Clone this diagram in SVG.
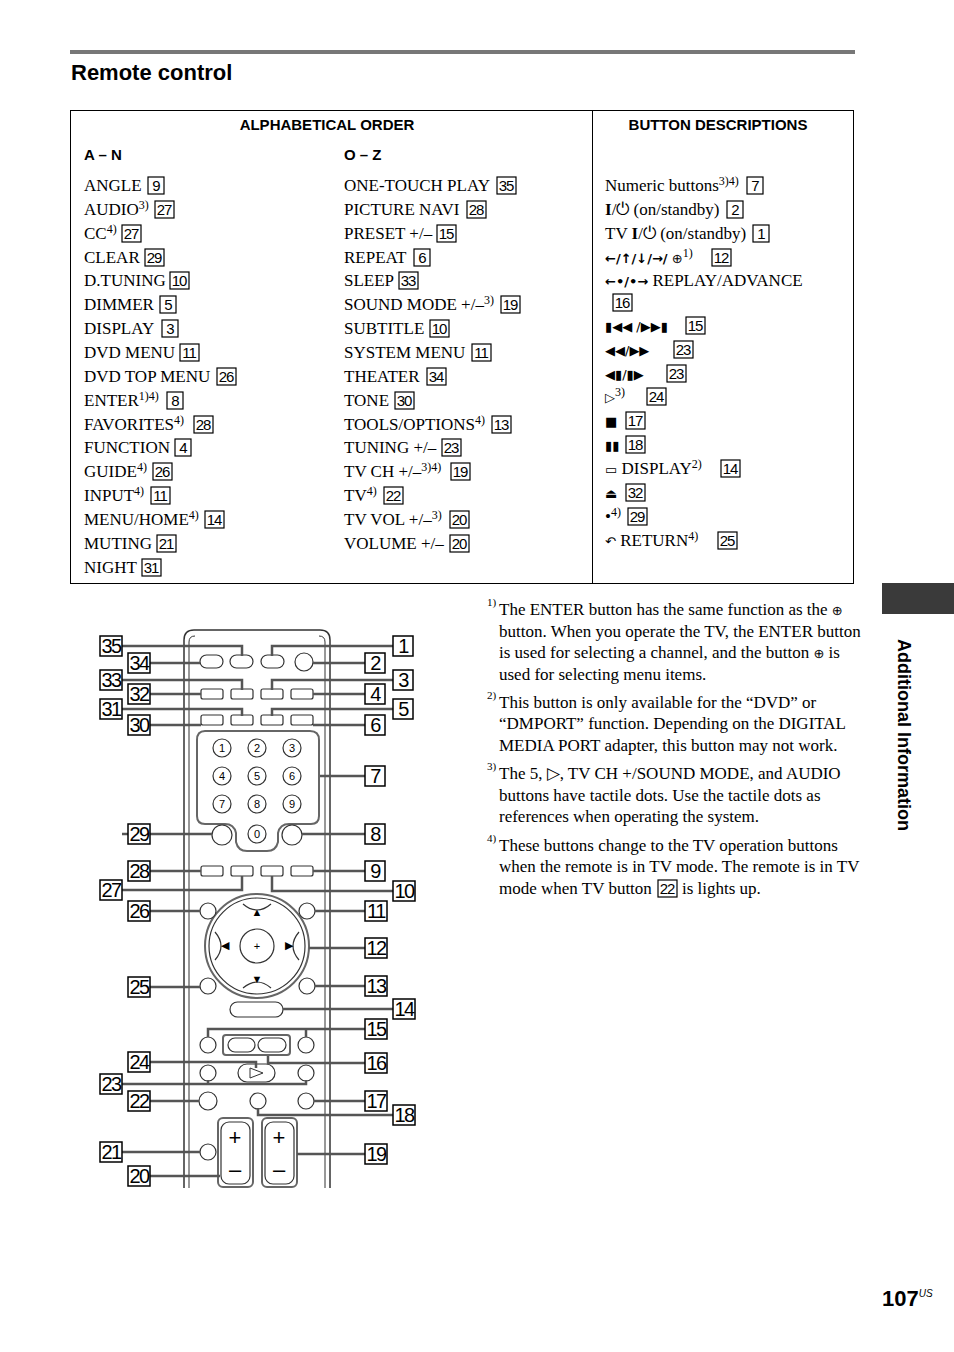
<svg xmlns="http://www.w3.org/2000/svg" width="954" height="1352" viewBox="0 0 954 1352">
<style>
.t{font-family:"Liberation Serif",serif;font-size:17px;fill:#000}
.h{font-family:"Liberation Sans",sans-serif;font-size:15px;font-weight:bold}
.s{font-size:12px}
.bx{fill:#fff;stroke:#000;stroke-width:1.2}
.bn{font-family:"Liberation Sans",sans-serif;font-size:15px;letter-spacing:-1px;text-anchor:middle}
.lb{fill:#fff;stroke:#000;stroke-width:1.5}
.ln{font-family:"Liberation Sans",sans-serif;font-size:20px;letter-spacing:-1.5px;text-anchor:middle}
.r{fill:#fff;stroke:#333;stroke-width:1.2}
.ld{fill:none;stroke:#555;stroke-width:2.5}
.d{font-family:"Liberation Sans",sans-serif;font-size:11px;text-anchor:middle}
.sy{font-family:"DejaVu Sans",sans-serif;font-size:13px}
</style>
<rect width="954" height="1352" fill="#fff"/>
<line x1="70" y1="52" x2="855" y2="52" stroke="#777" stroke-width="4"/>
<text x="71" y="80" font-family="Liberation Sans,sans-serif" font-size="22" font-weight="bold">Remote control</text>
<rect x="70.5" y="110.5" width="783" height="473" fill="none" stroke="#000"/>
<line x1="592.5" y1="110" x2="592.5" y2="583" stroke="#000"/>
<text class="h" x="327" y="130" text-anchor="middle">ALPHABETICAL ORDER</text>
<text class="h" x="718" y="130" text-anchor="middle">BUTTON DESCRIPTIONS</text>
<text class="h" x="84" y="160">A – N</text>
<text class="h" x="344" y="160">O – Z</text>
<g id="tbl">
<g class="t">
<text x="84" y="191">ANGLE</text><text x="84" y="215">AUDIO<tspan class="s" dy="-6">3)</tspan></text>
<text x="84" y="239">CC<tspan class="s" dy="-6">4)</tspan></text><text x="84" y="263">CLEAR</text>
<text x="84" y="286">D.TUNING</text><text x="84" y="310">DIMMER</text><text x="84" y="334">DISPLAY</text>
<text x="84" y="358">DVD MENU</text><text x="84" y="382">DVD TOP MENU</text>
<text x="84" y="406">ENTER<tspan class="s" dy="-6">1)4)</tspan></text>
<text x="84" y="430">FAVORITES<tspan class="s" dy="-6">4)</tspan></text><text x="84" y="453">FUNCTION</text>
<text x="84" y="477">GUIDE<tspan class="s" dy="-6">4)</tspan></text><text x="84" y="501">INPUT<tspan class="s" dy="-6">4)</tspan></text>
<text x="84" y="525">MENU/HOME<tspan class="s" dy="-6">4)</tspan></text><text x="84" y="549">MUTING</text><text x="84" y="573">NIGHT</text>
<text x="344" y="191">ONE-TOUCH PLAY</text><text x="344" y="215">PICTURE NAVI</text><text x="344" y="239">PRESET +/–</text>
<text x="344" y="263">REPEAT</text><text x="344" y="286">SLEEP</text><text x="344" y="310">SOUND MODE +/–<tspan class="s" dy="-6">3)</tspan></text>
<text x="344" y="334">SUBTITLE</text><text x="344" y="358">SYSTEM MENU</text><text x="344" y="382">THEATER</text>
<text x="344" y="406">TONE</text><text x="344" y="430">TOOLS/OPTIONS<tspan class="s" dy="-6">4)</tspan></text>
<text x="344" y="453">TUNING +/–</text><text x="344" y="477">TV CH +/–<tspan class="s" dy="-6">3)4)</tspan></text>
<text x="344" y="501">TV<tspan class="s" dy="-6">4)</tspan></text><text x="344" y="525">TV VOL +/–<tspan class="s" dy="-6">3)</tspan></text>
<text x="344" y="549">VOLUME +/–</text>
<text x="605" y="191">Numeric buttons<tspan class="s" dy="-6">3)4)</tspan></text>
<text x="605" y="215"><tspan font-weight="bold">I</tspan>/⏻ (on/standby)</text><text x="605" y="239">TV <tspan font-weight="bold">I</tspan>/⏻ (on/standby)</text>
<text x="605" y="263"><tspan class="sy" font-weight="bold">←/↑/↓/→/</tspan> <tspan class="sy" font-size="11">⊕</tspan><tspan class="s" dy="-6">1)</tspan></text>
<text x="605" y="286"><tspan class="sy" font-size="14" font-weight="bold"> ←•/•→</tspan>  REPLAY/ADVANCE</text>
<text x="605" y="331" class="sy" font-size="12">▮◀◀ /▶▶▮</text>
<text x="605" y="355" class="sy">◀◀/▶▶</text>
<text x="605" y="379" class="sy" font-size="11">◀▮/▮▶</text>
<text x="605" y="402"><tspan class="sy" font-size="15">▷</tspan><tspan class="s" dy="-6">3)</tspan></text>
<text x="605" y="426" class="sy" font-size="15">■</text>
<text x="605" y="450" class="sy" font-size="12">▮▮</text>
<text x="605" y="474"><tspan class="sy" font-size="12">▭</tspan> DISPLAY<tspan class="s" dy="-6">2)</tspan></text>
<text x="605" y="498" class="sy" font-size="14">⏏</text>
<text x="605" y="522">•<tspan class="s" dy="-6">4)</tspan></text>
<text x="605" y="546"><tspan class="sy" font-size="14">↶</tspan> RETURN<tspan class="s" dy="-6">4)</tspan></text>
</g>
<g>
<rect class="bx" x="148" y="177" width="16" height="17"/><text class="bn" x="156" y="191">9</text>
<rect class="bx" x="155" y="201" width="19" height="17"/><text class="bn" x="164" y="215">27</text>
<rect class="bx" x="122" y="225" width="19" height="17"/><text class="bn" x="131" y="239">27</text>
<rect class="bx" x="145" y="249" width="19" height="17"/><text class="bn" x="154" y="263">29</text>
<rect class="bx" x="170" y="272" width="19" height="17"/><text class="bn" x="179" y="286">10</text>
<rect class="bx" x="160" y="296" width="16" height="17"/><text class="bn" x="168" y="310">5</text>
<rect class="bx" x="162" y="320" width="16" height="17"/><text class="bn" x="170" y="334">3</text>
<rect class="bx" x="180" y="344" width="19" height="17"/><text class="bn" x="189" y="358">11</text>
<rect class="bx" x="217" y="368" width="19" height="17"/><text class="bn" x="226" y="382">26</text>
<rect class="bx" x="167" y="392" width="16" height="17"/><text class="bn" x="175" y="406">8</text>
<rect class="bx" x="194" y="416" width="19" height="17"/><text class="bn" x="203" y="430">28</text>
<rect class="bx" x="175" y="439" width="16" height="17"/><text class="bn" x="183" y="453">4</text>
<rect class="bx" x="153" y="463" width="19" height="17"/><text class="bn" x="162" y="477">26</text>
<rect class="bx" x="151" y="487" width="19" height="17"/><text class="bn" x="160" y="501">11</text>
<rect class="bx" x="205" y="511" width="19" height="17"/><text class="bn" x="214" y="525">14</text>
<rect class="bx" x="157" y="535" width="19" height="17"/><text class="bn" x="166" y="549">21</text>
<rect class="bx" x="142" y="559" width="19" height="17"/><text class="bn" x="151" y="573">31</text>
<rect class="bx" x="497" y="177" width="19" height="17"/><text class="bn" x="506" y="191">35</text>
<rect class="bx" x="467" y="201" width="19" height="17"/><text class="bn" x="476" y="215">28</text>
<rect class="bx" x="437" y="225" width="19" height="17"/><text class="bn" x="446" y="239">15</text>
<rect class="bx" x="414" y="249" width="16" height="17"/><text class="bn" x="422" y="263">6</text>
<rect class="bx" x="399" y="272" width="19" height="17"/><text class="bn" x="408" y="286">33</text>
<rect class="bx" x="501" y="296" width="19" height="17"/><text class="bn" x="510" y="310">19</text>
<rect class="bx" x="430" y="320" width="19" height="17"/><text class="bn" x="439" y="334">10</text>
<rect class="bx" x="472" y="344" width="19" height="17"/><text class="bn" x="481" y="358">11</text>
<rect class="bx" x="427" y="368" width="19" height="17"/><text class="bn" x="436" y="382">34</text>
<rect class="bx" x="395" y="392" width="19" height="17"/><text class="bn" x="404" y="406">30</text>
<rect class="bx" x="492" y="416" width="19" height="17"/><text class="bn" x="501" y="430">13</text>
<rect class="bx" x="442" y="439" width="19" height="17"/><text class="bn" x="451" y="453">23</text>
<rect class="bx" x="451" y="463" width="19" height="17"/><text class="bn" x="460" y="477">19</text>
<rect class="bx" x="384" y="487" width="19" height="17"/><text class="bn" x="393" y="501">22</text>
<rect class="bx" x="450" y="511" width="19" height="17"/><text class="bn" x="459" y="525">20</text>
<rect class="bx" x="450" y="535" width="19" height="17"/><text class="bn" x="459" y="549">20</text>
<rect class="bx" x="747" y="177" width="16" height="17"/><text class="bn" x="755" y="191">7</text>
<rect class="bx" x="727" y="201" width="16" height="17"/><text class="bn" x="735" y="215">2</text>
<rect class="bx" x="753" y="225" width="16" height="17"/><text class="bn" x="761" y="239">1</text>
<rect class="bx" x="712" y="249" width="19" height="17"/><text class="bn" x="721" y="263">12</text>
<rect class="bx" x="613" y="294" width="19" height="17"/><text class="bn" x="622" y="308">16</text>
<rect class="bx" x="686" y="317" width="19" height="17"/><text class="bn" x="695" y="331">15</text>
<rect class="bx" x="674" y="341" width="19" height="17"/><text class="bn" x="683" y="355">23</text>
<rect class="bx" x="667" y="365" width="19" height="17"/><text class="bn" x="676" y="379">23</text>
<rect class="bx" x="647" y="388" width="19" height="17"/><text class="bn" x="656" y="402">24</text>
<rect class="bx" x="626" y="412" width="19" height="17"/><text class="bn" x="635" y="426">17</text>
<rect class="bx" x="626" y="436" width="19" height="17"/><text class="bn" x="635" y="450">18</text>
<rect class="bx" x="721" y="460" width="19" height="17"/><text class="bn" x="730" y="474">14</text>
<rect class="bx" x="626" y="484" width="19" height="17"/><text class="bn" x="635" y="498">32</text>
<rect class="bx" x="628" y="508" width="19" height="17"/><text class="bn" x="637" y="522">29</text>
<rect class="bx" x="718" y="532" width="19" height="17"/><text class="bn" x="727" y="546">25</text>
</g>
</g>
<g id="remote">
<path d="M184 1188 V640 Q184 630 194 630 H320 Q330 630 330 640 V1188" fill="none" stroke="#333" stroke-width="1.5"/>
<path d="M189 1188 V642 Q189 636 195 636 M325 1188 V642 Q325 636 319 636" fill="none" stroke="#333" stroke-width="1"/>
<rect class="r" x="200" y="655" width="23" height="13" rx="6.5"/><rect class="r" x="230" y="655" width="23" height="13" rx="6.5"/>
<rect class="r" x="261" y="655" width="23" height="13" rx="6.5"/><circle class="r" cx="304" cy="662" r="9"/>
<g class="r">
<rect x="201" y="689" width="22" height="10" rx="2"/><rect x="231" y="689" width="22" height="10" rx="2"/><rect x="261" y="689" width="22" height="10" rx="2"/><rect x="291" y="689" width="22" height="10" rx="2"/>
<rect x="201" y="715" width="22" height="10" rx="2"/><rect x="231" y="715" width="22" height="10" rx="2"/><rect x="261" y="715" width="22" height="10" rx="2"/><rect x="291" y="715" width="22" height="10" rx="2"/>
<rect x="201" y="866" width="22" height="10" rx="2"/><rect x="231" y="866" width="22" height="10" rx="2"/><rect x="261" y="866" width="22" height="10" rx="2"/><rect x="291" y="866" width="22" height="10" rx="2"/>
</g>
<path d="M205 731 H310 Q319 731 319 740 V816 Q319 824 311 824 H289 Q280 824 278 833 V842 Q276 851 267 851 H247 Q238 851 236 842 V833 Q234 824 225 824 H205 Q197 824 197 816 V740 Q197 731 205 731 Z" fill="none" stroke="#666" stroke-width="2"/>
<g class="r"><circle cx="222" cy="748" r="9"/><circle cx="257" cy="748" r="9"/><circle cx="292" cy="748" r="9"/>
<circle cx="222" cy="776" r="9"/><circle cx="257" cy="776" r="9"/><circle cx="292" cy="776" r="9"/>
<circle cx="222" cy="804" r="9"/><circle cx="257" cy="804" r="9"/><circle cx="292" cy="804" r="9"/>
<circle cx="257" cy="834" r="9"/><circle cx="222" cy="835" r="10"/><circle cx="292" cy="835" r="10"/></g>
<g class="d"><text x="222" y="752">1</text><text x="257" y="752">2</text><text x="292" y="752">3</text><text x="222" y="780">4</text><text x="257" y="780">5</text><text x="292" y="780">6</text><text x="222" y="808">7</text><text x="257" y="808">8</text><text x="292" y="808">9</text><text x="257" y="838">0</text></g>
<circle cx="257" cy="946" r="52" fill="#fff" stroke="#666" stroke-width="2"/><circle cx="257" cy="946" r="48" class="r"/>
<circle cx="257" cy="946" r="17" class="r"/>
<path d="M243 904 Q257 916 271 904 M243 988 Q257 976 271 988 M215 932 Q227 946 215 960 M299 932 Q287 946 299 960" class="r" fill="none"/>
<text class="d" x="257" y="950">+</text><text class="d" x="257" y="916" font-size="8">▲</text><text class="d" x="257" y="983" font-size="8">▼</text><text class="d" x="225" y="949" font-size="8">◀</text><text class="d" x="289" y="949" font-size="8">▶</text>
<g class="r"><circle cx="208" cy="911" r="8"/><circle cx="307" cy="911" r="8"/><circle cx="208" cy="986" r="8"/><circle cx="307" cy="986" r="8"/>
<rect x="230" y="1002" width="53" height="15" rx="7.5"/>
<circle cx="208" cy="1045" r="8"/><circle cx="306" cy="1045" r="8"/></g>
<rect x="223" y="1035" width="67" height="20" rx="3" fill="none" stroke="#666" stroke-width="2"/>
<rect class="r" x="228" y="1038" width="27" height="14" rx="7"/><rect class="r" x="258" y="1038" width="28" height="14" rx="7"/>
<rect class="r" x="238" y="1064" width="37" height="18" rx="9"/><path d="M250 1068 L263 1073 L250 1078 Z" fill="none" stroke="#333"/>
<g class="r"><circle cx="208" cy="1073" r="8"/><circle cx="306" cy="1073" r="8"/><circle cx="208" cy="1101" r="9"/><circle cx="258" cy="1101" r="8"/><circle cx="306" cy="1101" r="8"/><circle cx="208" cy="1152" r="8"/></g>
<rect x="218" y="1118" width="35" height="69" rx="5" fill="none" stroke="#666" stroke-width="2"/>
<rect x="262" y="1118" width="35" height="69" rx="5" fill="none" stroke="#666" stroke-width="2"/>
<rect class="r" x="221" y="1122" width="29" height="62" rx="8"/><rect class="r" x="265" y="1122" width="29" height="62" rx="8"/>
<g font-family="Liberation Sans,sans-serif" font-size="22" text-anchor="middle"><text x="235" y="1145">+</text><text x="235" y="1177">–</text><text x="279" y="1145">+</text><text x="279" y="1177">–</text></g>
</g>
<g id="connectors" class="ld">
<path d="M122 646 H242 V656"/><path d="M150 663 H200"/><path d="M122 680 H242 V690"/><path d="M150 694 H201"/>
<path d="M122 709 H242 V716"/><path d="M150 725 H201"/><path d="M122 834 H212"/><path d="M150 871 H201"/>
<path d="M122 890 H242 V876"/><path d="M150 911 H200"/><path d="M150 987 H200"/><path d="M150 1062 H256 V1068"/>
<path d="M122 1084 H208 V1080 M208 1084 H306 V1080"/><path d="M150 1101 H199"/><path d="M122 1152 H200"/><path d="M150 1176 H220"/>
<path d="M393 646 H272 V656"/><path d="M365 663 H313"/><path d="M393 680 H272 V690"/><path d="M365 694 H313"/>
<path d="M393 709 H272 V716"/><path d="M365 725 H313"/><path d="M365 776 H320"/><path d="M365 834 H302"/>
<path d="M365 871 H313"/><path d="M393 891 H272 V876"/><path d="M365 911 H315"/><path d="M365 948 H309"/>
<path d="M365 986 H315"/><path d="M393 1009 H283"/><path d="M365 1029 H208 V1037 M306 1029 V1037"/>
<path d="M365 1063 H268 V1056"/><path d="M365 1101 H314"/><path d="M393 1115 H258 V1108"/><path d="M365 1154 H297"/>
</g>
<g id="labels">
<rect class="lb" x="100" y="636" width="22" height="20"/><text class="ln" x="111" y="653">35</text>
<rect class="lb" x="128" y="653" width="22" height="20"/><text class="ln" x="139" y="670">34</text>
<rect class="lb" x="100" y="670" width="22" height="20"/><text class="ln" x="111" y="687">33</text>
<rect class="lb" x="128" y="684" width="22" height="20"/><text class="ln" x="139" y="701">32</text>
<rect class="lb" x="100" y="699" width="22" height="20"/><text class="ln" x="111" y="716">31</text>
<rect class="lb" x="128" y="715" width="22" height="20"/><text class="ln" x="139" y="732">30</text>
<rect class="lb" x="128" y="824" width="22" height="20"/><text class="ln" x="139" y="841">29</text>
<rect class="lb" x="128" y="861" width="22" height="20"/><text class="ln" x="139" y="878">28</text>
<rect class="lb" x="100" y="880" width="22" height="20"/><text class="ln" x="111" y="897">27</text>
<rect class="lb" x="128" y="901" width="22" height="20"/><text class="ln" x="139" y="918">26</text>
<rect class="lb" x="128" y="977" width="22" height="20"/><text class="ln" x="139" y="994">25</text>
<rect class="lb" x="128" y="1052" width="22" height="20"/><text class="ln" x="139" y="1069">24</text>
<rect class="lb" x="100" y="1074" width="22" height="20"/><text class="ln" x="111" y="1091">23</text>
<rect class="lb" x="128" y="1091" width="22" height="20"/><text class="ln" x="139" y="1108">22</text>
<rect class="lb" x="100" y="1142" width="22" height="20"/><text class="ln" x="111" y="1159">21</text>
<rect class="lb" x="128" y="1166" width="22" height="20"/><text class="ln" x="139" y="1183">20</text>
<rect class="lb" x="393" y="636" width="20" height="20"/><text class="ln" x="403" y="653">1</text>
<rect class="lb" x="365" y="653" width="20" height="20"/><text class="ln" x="375" y="670">2</text>
<rect class="lb" x="393" y="670" width="20" height="20"/><text class="ln" x="403" y="687">3</text>
<rect class="lb" x="365" y="684" width="20" height="20"/><text class="ln" x="375" y="701">4</text>
<rect class="lb" x="393" y="699" width="20" height="20"/><text class="ln" x="403" y="716">5</text>
<rect class="lb" x="365" y="715" width="20" height="20"/><text class="ln" x="375" y="732">6</text>
<rect class="lb" x="365" y="766" width="20" height="20"/><text class="ln" x="375" y="783">7</text>
<rect class="lb" x="365" y="824" width="20" height="20"/><text class="ln" x="375" y="841">8</text>
<rect class="lb" x="365" y="861" width="20" height="20"/><text class="ln" x="375" y="878">9</text>
<rect class="lb" x="393" y="881" width="22" height="20"/><text class="ln" x="404" y="898">10</text>
<rect class="lb" x="365" y="901" width="22" height="20"/><text class="ln" x="376" y="918">11</text>
<rect class="lb" x="365" y="938" width="22" height="20"/><text class="ln" x="376" y="955">12</text>
<rect class="lb" x="365" y="976" width="22" height="20"/><text class="ln" x="376" y="993">13</text>
<rect class="lb" x="393" y="999" width="22" height="20"/><text class="ln" x="404" y="1016">14</text>
<rect class="lb" x="365" y="1019" width="22" height="20"/><text class="ln" x="376" y="1036">15</text>
<rect class="lb" x="365" y="1053" width="22" height="20"/><text class="ln" x="376" y="1070">16</text>
<rect class="lb" x="365" y="1091" width="22" height="20"/><text class="ln" x="376" y="1108">17</text>
<rect class="lb" x="393" y="1105" width="22" height="20"/><text class="ln" x="404" y="1122">18</text>
<rect class="lb" x="365" y="1144" width="22" height="20"/><text class="ln" x="376" y="1161">19</text>
</g>
<g class="t" font-size="16">
<text x="487" y="606" font-size="11">1)</text><text x="499" y="615">The ENTER button has the same function as the <tspan class="sy" font-size="11">⊕</tspan></text>
<text x="499" y="637">button. When you operate the TV, the ENTER button</text>
<text x="499" y="658">is used for selecting a channel, and the button <tspan class="sy" font-size="11">⊕</tspan> is</text>
<text x="499" y="680">used for selecting menu items.</text>
<text x="487" y="699" font-size="11">2)</text><text x="499" y="708">This button is only available for the “DVD” or</text>
<text x="499" y="729">“DMPORT” function. Depending on the DIGITAL</text>
<text x="499" y="751">MEDIA PORT adapter, this button may not work.</text>
<text x="487" y="770" font-size="11">3)</text><text x="499" y="779">The 5, ▷, TV CH +/SOUND MODE, and AUDIO</text>
<text x="499" y="801">buttons have tactile dots. Use the tactile dots as</text>
<text x="499" y="822">references when operating the system.</text>
<text x="487" y="842" font-size="11">4)</text><text x="499" y="851">These buttons change to the TV operation buttons</text>
<text x="499" y="872">when the remote is in TV mode. The remote is in TV</text>
<text x="499" y="894">mode when TV button</text><text x="682" y="894">is lights up.</text>
</g>
<rect class="bx" x="658" y="880" width="19" height="17"/><text class="bn" x="667" y="894">22</text>
<rect x="882" y="583" width="72" height="31" fill="#3a3a3a"/>
<text transform="translate(898,735) rotate(90)" font-family="Liberation Sans,sans-serif" font-size="18" font-weight="bold" text-anchor="middle">Additional Information</text>
<text x="882" y="1306" font-family="Liberation Sans,sans-serif" font-size="22" font-weight="bold">107<tspan font-size="10" font-style="italic" font-weight="normal" dy="-9">US</tspan></text>
</svg>
